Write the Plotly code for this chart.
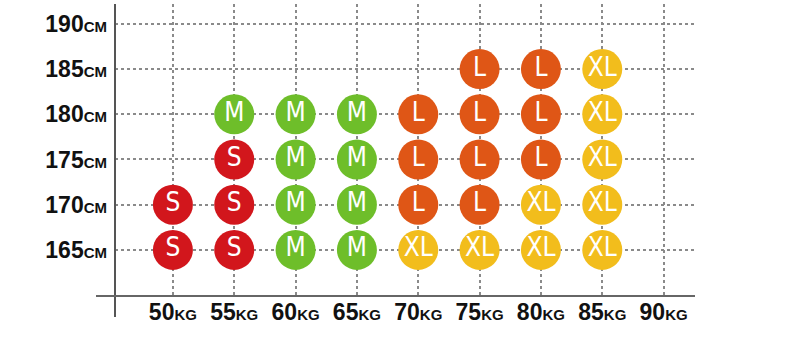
import plotly.graph_objects as go

# Data
weights = [75, 80, 85,
           55, 60, 65, 70, 75, 80, 85,
           55, 60, 65, 70, 75, 80, 85,
           50, 55, 60, 65, 70, 75, 80, 85,
           50, 55, 60, 65, 70, 75, 80, 85]
heights = [185, 185, 185,
           180, 180, 180, 180, 180, 180, 180,
           175, 175, 175, 175, 175, 175, 175,
           170, 170, 170, 170, 170, 170, 170, 170,
           165, 165, 165, 165, 165, 165, 165, 165]
sizes = ["L", "L", "XL",
         "M", "M", "M", "L", "L", "L", "XL",
         "S", "M", "M", "L", "L", "L", "XL",
         "S", "S", "M", "M", "L", "L", "XL", "XL",
         "S", "S", "M", "M", "XL", "XL", "XL", "XL"]

weight_ticks = [50, 55, 60, 65, 70, 75, 80, 85, 90]
height_ticks = [165, 170, 175, 180, 185, 190]

size_colors = {"S": "#D2161C", "M": "#6EBE2A", "L": "#DF5616", "XL": "#F2BD1C"}

x_ticktext = [f"{w}<span style='font-size:15px'>KG</span>" for w in weight_ticks]
y_ticktext = [f"{h}<span style='font-size:15px'>CM</span>" for h in height_ticks]

fig = go.Figure()
fig.add_trace(go.Scatter(
    x=weights, y=heights, text=sizes,
    mode="markers+text",
    marker=dict(size=40, color=[size_colors[s] for s in sizes], line=dict(width=0)),
    textposition="middle center",
    textfont=dict(family="Liberation Sans Narrow, Arial Narrow, DejaVu Sans Condensed, sans-serif",
                  size=26, color="white"),
    hoverinfo="skip",
    cliponaxis=False,
))

grid = dict(showgrid=True, gridcolor="#8a8a8a", gridwidth=1.6, griddash="dot",
            zeroline=False, showline=False, ticks="", fixedrange=True)

fig.update_xaxes(range=[45.28, 92.56], tickvals=weight_ticks, ticktext=x_ticktext,
                 tickfont=dict(family="Liberation Sans, Arial, sans-serif", size=23, color="#111",
                               weight="bold"),
                 ticklabelstandoff=0, **grid)
fig.update_yaxes(range=[159.9, 192.2], tickvals=height_ticks, ticktext=y_ticktext,
                 tickfont=dict(family="Liberation Sans, Arial, sans-serif", size=23, color="#111",
                               weight="bold"),
                 ticklabelstandoff=7, **grid)

# Axis lines (extending beyond the plot area like the reference)
fig.add_shape(type="line", xref="paper", yref="paper", x0=0, x1=0, y0=-21/292, y1=1,
              line=dict(color="#555", width=2))
fig.add_shape(type="line", xref="paper", yref="paper", x0=-19/580, x1=1, y0=0, y1=0,
              line=dict(color="#666", width=2))

fig.update_layout(
    width=792, height=339,
    margin=dict(l=115, r=97, t=4, b=43),
    paper_bgcolor="white", plot_bgcolor="white",
    showlegend=False,
    font=dict(family="Liberation Sans, Arial, sans-serif"),
)

fig.write_html("out.html", config={"displayModeBar": False})
